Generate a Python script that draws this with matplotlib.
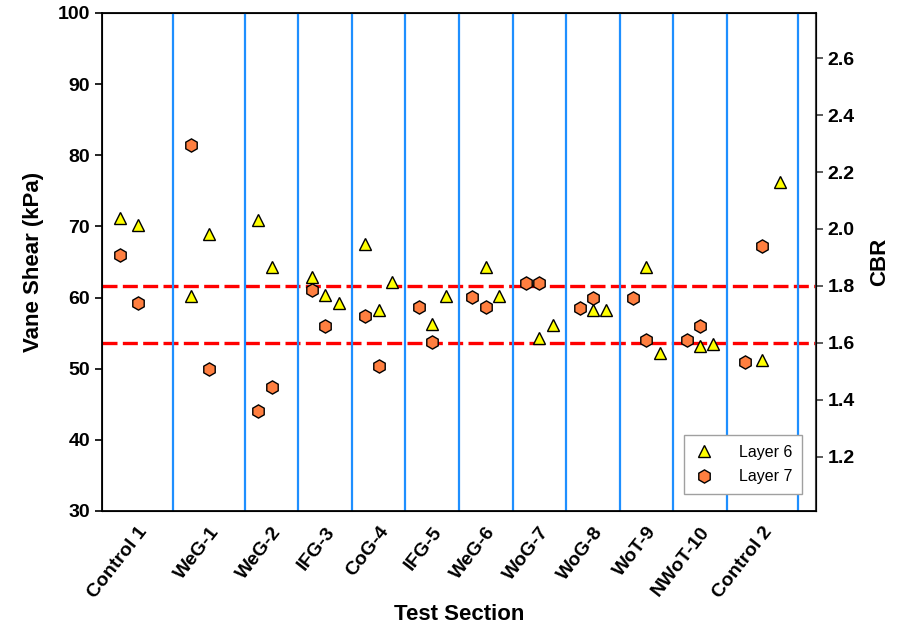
import numpy as np
import matplotlib.pyplot as plt

plt.rcParams['font.family'] = ['Liberation Sans', 'DejaVu Sans']

# test sections and their width on the x scale
sections = ['Control 1', 'WeG-1', 'WeG-2', 'IFG-3', 'CoG-4', 'IFG-5', 'WeG-6',
            'WoG-7', 'WoG-8', 'WoT-9', 'NWoT-10', 'Control 2']
widths = [4, 4, 3, 3, 3, 3, 3, 3, 3, 3, 3, 4]

# Layer 6 (triangles): section index, slot inside section, vane shear (kPa)
l6_sec = [0, 0, 1, 1, 2, 2, 3, 3, 3, 4, 4, 4, 5, 5, 6, 6, 7, 7, 8, 8, 9, 9, 10, 10, 11, 11]
l6_slot = [1, 2, 1, 2, 1, 2, 1, 2, 3, 1, 2, 3, 2, 3, 2, 3, 2, 3, 2, 3, 2, 3, 2, 3, 2, 3]
l6_vs = [71.2, 70.2, 60.2, 68.9, 70.9, 64.3, 62.9, 60.3, 59.2, 67.5, 58.3, 62.2,
         56.3, 60.2, 64.3, 60.2, 54.3, 56.2, 58.2, 58.2, 64.3, 52.2, 53.2, 53.5,
         51.2, 76.2]

# Layer 7 (hexagons)
l7_sec = [0, 0, 1, 1, 2, 2, 3, 3, 4, 4, 5, 5, 6, 6, 7, 7, 8, 8, 9, 9, 10, 10, 11, 11]
l7_slot = [1, 2] * 12
l7_vs = [66.0, 59.3, 81.4, 50.0, 44.0, 47.4, 61.0, 56.0, 57.4, 50.4, 58.7, 53.7,
         60.1, 58.7, 62.0, 62.0, 58.5, 60.0, 60.0, 54.0, 54.0, 56.0, 51.0, 67.2]

# CBR reference band
cbr_lines = [1.6, 1.8]


def xpos(sec, slot):
    starts = np.concatenate([[0], np.cumsum(widths)[:-1]])
    return [starts[s] + k * widths[s] / 4 for s, k in zip(sec, slot)]


fig, ax = plt.subplots(figsize=(9.04, 6.31), dpi=100)
fig.subplots_adjust(left=0.1128, right=0.9027, bottom=0.1902, top=0.9794)
ax2 = ax.twinx()
ax.set_zorder(ax2.get_zorder() + 1)
ax.patch.set_visible(False)

bounds = np.cumsum(widths)
for b in bounds:
    ax.axvline(b, color='#1E8FFF', lw=1.6, zorder=1)

for c in cbr_lines:
    ax2.axhline(c, color='red', lw=2.4, dashes=(4.5, 1.6))

ax.plot(xpos(l6_sec, l6_slot), l6_vs, ls='none', marker='^', ms=9,
        mfc='#FFFF00', mec='black', mew=1.0, label='Layer 6', zorder=3)
ax.plot(xpos(l7_sec, l7_slot), l7_vs, ls='none', marker='h', ms=9.5,
        mfc='#FF7F40', mec='black', mew=1.0, label='Layer 7', zorder=3)

centers = bounds - np.array(widths) / 2
ax.set_xlim(0, bounds[-1] + 1)
ax.set_xticks(centers)
ax.set_xticklabels(sections, rotation=52, ha='right', rotation_mode='anchor',
                   fontsize=14, fontweight='bold')
ax.tick_params(axis='x', length=0, pad=9)

ax.set_ylim(30, 100)
ax.set_yticks(np.arange(30, 101, 10))
ax.tick_params(axis='y', direction='out', length=5, width=1.2, labelsize=14)
for t in ax.get_yticklabels():
    t.set_fontweight('bold')

ax2.set_ylim(1.009, 2.759)
ax2.set_yticks(np.arange(1.2, 2.61, 0.2))
ax2.set_yticklabels([f'{v:.1f}' for v in np.arange(1.2, 2.61, 0.2)],
                    fontsize=14, fontweight='bold')
ax2.tick_params(axis='y', direction='out', length=5, width=1.2, color='#404040')
ax2.spines['right'].set_color('#404040')
ax2.spines['right'].set_linewidth(1.5)

for s in ['left', 'bottom', 'top']:
    ax.spines[s].set_linewidth(1.3)

ax.set_ylabel('Vane Shear (kPa)', fontsize=16, fontweight='bold', labelpad=10)
ax2.set_ylabel('CBR', fontsize=16, fontweight='bold', labelpad=10)
ax.set_xlabel('Test Section', fontsize=16, fontweight='bold', labelpad=2)

leg = ax.legend(loc='lower right', bbox_to_anchor=(0.98, 0.034), borderaxespad=0,
                fontsize=11.5, frameon=True, fancybox=False, framealpha=1,
                edgecolor='#A0A0A0', handlelength=1.2, handletextpad=1.6,
                borderpad=0.6, labelspacing=0.6)
leg.get_frame().set_linewidth(1.0)

fig.savefig('out.png', dpi=100)
